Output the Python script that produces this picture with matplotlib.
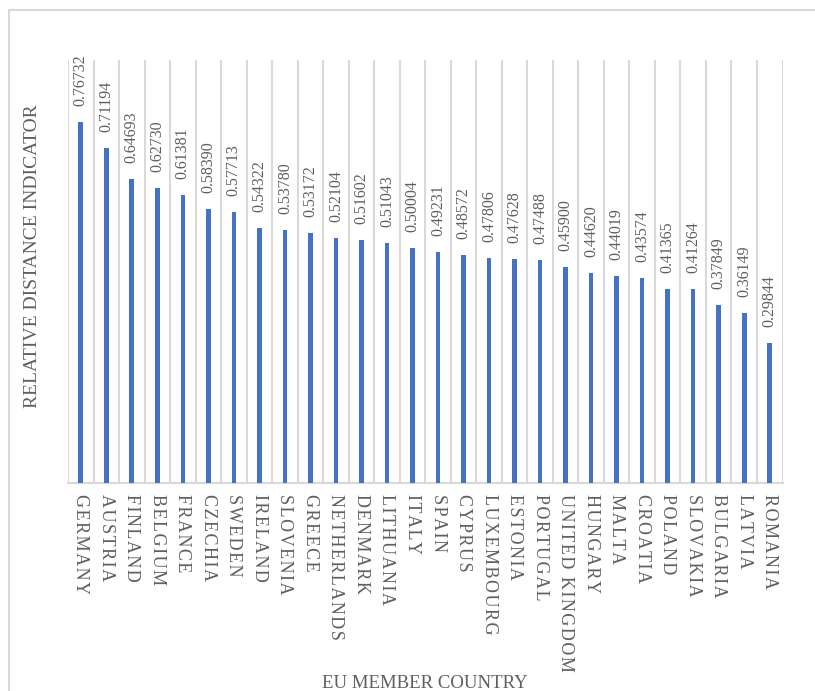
import matplotlib
matplotlib.use('Agg')
import matplotlib.pyplot as plt
from matplotlib.patches import Rectangle
from matplotlib.ticker import FixedLocator

countries = ['GERMANY', 'AUSTRIA', 'FINLAND', 'BELGIUM', 'FRANCE', 'CZECHIA', 'SWEDEN',
             'IRELAND', 'SLOVENIA', 'GREECE', 'NETHERLANDS', 'DENMARK', 'LITHUANIA', 'ITALY',
             'SPAIN', 'CYPRUS', 'LUXEMBOURG', 'ESTONIA', 'PORTUGAL', 'UNITED KINGDOM',
             'HUNGARY', 'MALTA', 'CROATIA', 'POLAND', 'SLOVAKIA', 'BULGARIA', 'LATVIA', 'ROMANIA']
rdi = [0.76732, 0.71194, 0.64693, 0.62730, 0.61381, 0.58390, 0.57713,
       0.54322, 0.53780, 0.53172, 0.52104, 0.51602, 0.51043, 0.50004,
       0.49231, 0.48572, 0.47806, 0.47628, 0.47488, 0.45900,
       0.44620, 0.44019, 0.43574, 0.41365, 0.41264, 0.37849, 0.36149, 0.29844]

plt.rcParams['font.family'] = ['Liberation Serif', 'DejaVu Serif']
text_color = '#5f5f5f'
grid_color = '#d9d9d9'
bar_color = '#4472C4'

fig = plt.figure(figsize=(8.15, 6.91), dpi=100)
ax = fig.add_axes([68 / 815, 1 - 483 / 691, (782.5 - 68) / 815, (483 - 60) / 691])

x = list(range(len(countries)))
ax.bar(x, rdi, width=0.18, color=bar_color, zorder=3)

for xi, v in zip(x, rdi):
    ax.annotate(f'{v:.5f}', xy=(xi, v), xytext=(0, 11.5), textcoords='offset points',
                rotation=90, ha='center', va='bottom', fontsize=11.5, color=text_color)

ax.set_xlim(-0.5, len(countries) - 0.5)
ax.set_ylim(0, 0.9)

# category separators
ax.xaxis.set_minor_locator(FixedLocator([i - 0.5 for i in range(len(countries) + 1)]))
ax.grid(which='minor', axis='x', color=grid_color, linewidth=1.5, zorder=0)
ax.tick_params(which='minor', length=0)

ax.set_xticks(x)
ax.set_xticklabels(['\u200a'.join(c) for c in countries], rotation=270, fontsize=13,
                   color=text_color, va='top', ha='center')
ax.tick_params(axis='x', which='major', length=0, pad=8)
ax.set_yticks([])

for side in ['top', 'right', 'left']:
    ax.spines[side].set_visible(False)
ax.spines['bottom'].set_color(grid_color)
ax.spines['bottom'].set_linewidth(1.5)

fig.text(33 / 815, 1 - 256 / 691, 'RELATIVE DISTANCE INDICATOR', rotation=90,
         ha='center', va='center', fontsize=14, color=text_color)
fig.text(425 / 815, 1 - 683 / 691, 'EU MEMBER COUNTRY', ha='center', va='center',
         fontsize=13.5, color=text_color)

# chart area border, running off the right and bottom edges
fig.patches.append(Rectangle((8.5 / 815, -0.1), 1.0, 1.1 - 10 / 691, transform=fig.transFigure,
                             fill=False, edgecolor=grid_color, linewidth=1.5))

fig.savefig('out.png', dpi=100)
plt.close(fig)
